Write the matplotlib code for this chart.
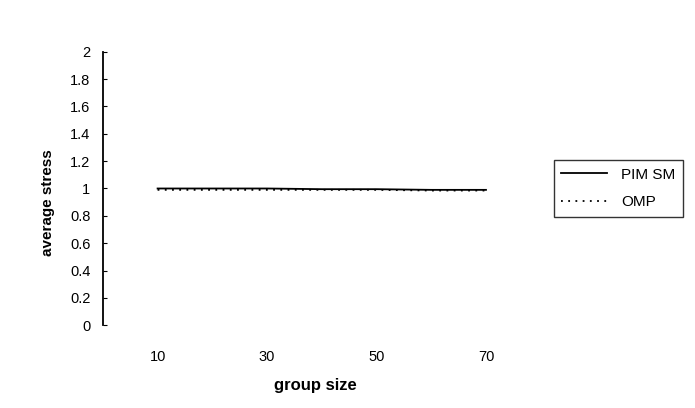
import matplotlib
matplotlib.use("Agg")
import matplotlib.pyplot as plt

group_size = [10, 20, 30, 40, 50, 60, 70]
pim_sm = [1.0, 1.0, 1.0, 0.995, 0.995, 0.99, 0.99]
omp = [0.99, 0.99, 0.99, 0.99, 0.99, 0.985, 0.985]
x_ticks = [10, 30, 50, 70]
y_ticks = [0, 0.2, 0.4, 0.6, 0.8, 1, 1.2, 1.4, 1.6, 1.8, 2]
y_labels = ["0", "0.2", "0.4", "0.6", "0.8", "1", "1.2", "1.4", "1.6", "1.8", "2"]

plt.rcParams['font.family'] = ['Liberation Sans', 'DejaVu Sans']

fig = plt.figure(figsize=(6.95, 4.08), dpi=100)
ax = fig.add_axes([0.148, 0.203, 0.63, 0.67])

ax.plot(group_size, pim_sm, color='black', linewidth=1.3, label='PIM SM')
ax.plot(group_size, omp, color='black', linewidth=1.3, linestyle=(0, (1, 3)), label='OMP')

ax.set_xlim(0, 80)
ax.set_ylim(0, 2)
ax.set_xticks(x_ticks)
ax.set_yticks(y_ticks)
ax.set_yticklabels(y_labels)
ax.tick_params(axis='x', length=0, pad=18, labelsize=10.5)
ax.tick_params(axis='y', length=3, direction='in', pad=9, labelsize=10.5)

for s in ['top', 'right', 'bottom']:
    ax.spines[s].set_visible(False)
ax.spines['left'].set_linewidth(1.3)

ax.set_xlabel('group size', fontsize=12, fontweight='bold')
ax.set_ylabel('average stress', fontsize=11, fontweight='bold')
ax.xaxis.set_label_coords(0.485, -0.195)
ax.yaxis.set_label_coords(-0.11, 0.45)

leg = ax.legend(loc='center left', bbox_to_anchor=(1.03, 0.5), frameon=True,
                fancybox=False, edgecolor='black', fontsize=11, handlelength=3.0,
                borderpad=0.5, handletextpad=0.9, labelspacing=0.9, borderaxespad=0)
leg.get_frame().set_linewidth(1.0)

fig.savefig('out.png', dpi=100, facecolor='white')
